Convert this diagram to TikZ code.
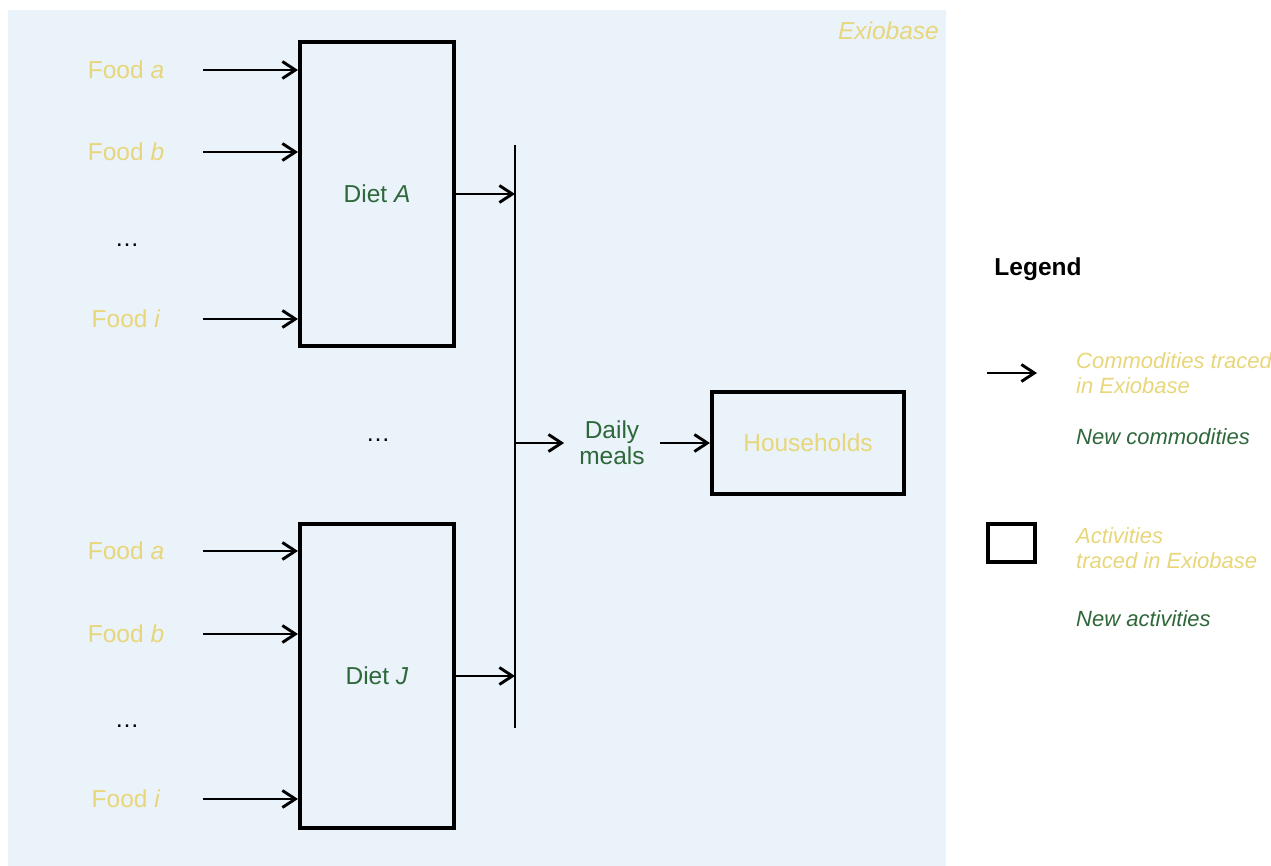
\documentclass[tikz,border=0pt]{standalone}
\usepackage{fontspec}
\setmainfont{Liberation Sans}
\usetikzlibrary{arrows.meta}
\definecolor{bgblue}{RGB}{234,242,250}
\definecolor{exyellow}{RGB}{232,214,122}
\definecolor{newgreen}{RGB}{46,104,58}
\newcommand{\mainsize}{\fontsize{24.5}{29}\selectfont}
\tikzset{
  arr/.style={line width=2.9pt,-{Straight Barb[length=13pt,width=17pt,line width=2.9pt]}},
  food/.style={text=exyellow,font=\mainsize,inner sep=0pt},
  dots/.style={font=\mainsize,inner sep=0pt},
  activity/.style={draw,line width=4pt,inner sep=0pt},
  diet/.style={activity,minimum width=154pt,minimum height=304pt,text=newgreen,font=\mainsize},
  legtext/.style={anchor=west,align=left,inner sep=0pt,font=\fontsize{22}{25}\selectfont\itshape}
}
\begin{document}
\begin{tikzpicture}[x=1pt,y=-1pt]
\useasboundingbox (0,0) rectangle (1271,866);
% background of the Exiobase part
\fill[bgblue] (8,10) rectangle (946,866);
\node[text=exyellow,anchor=east,inner sep=0pt,font=\fontsize{24.5}{28}\selectfont\itshape] (exio) at (939,31) {Exiobase};

% diets
\node[diet] (dietA) at (377,194) {Diet \textit{A}};
\node[diet] (dietJ) at (377,676) {Diet \textit{J}};

% foods feeding diet A
\node[food] (fa1) at (126,70) {Food \textit{a}};
\node[food] (fb1) at (126,152) {Food \textit{b}};
\node[dots] (d1) at (127,245) {\dots};
\node[food] (fi1) at (126,319) {Food \textit{i}};
% foods feeding diet J
\node[food] (fa2) at (126,551) {Food \textit{a}};
\node[food] (fb2) at (126,634) {Food \textit{b}};
\node[dots] (d2) at (127,726) {\dots};
\node[food] (fi2) at (126,799) {Food \textit{i}};

\foreach \f/\d in {fa1/dietA,fb1/dietA,fi1/dietA,fa2/dietJ,fb2/dietJ,fi2/dietJ}
  \draw[arr] (203,0 |- \f) -- (\d.west |- \f);

\node[dots] (dmid) at (378,440) {\dots};

% collecting line
\coordinate (bt) at (515,145);
\coordinate (bb) at (515,728);
\draw[line width=2.2pt] (bt) -- (bb);
\draw[arr] (dietA.east) -- (bt |- dietA.east);
\draw[arr] (dietJ.east) -- (bt |- dietJ.east);

% daily meals to households
\node[text=newgreen,align=center,inner xsep=15pt,inner ysep=0pt,font=\fontsize{24.5}{26}\selectfont] (dm) at (612,443) {Daily\\meals};
\node[activity,minimum width=192pt,minimum height=102pt,text=exyellow,font=\mainsize] (hh) at (808,443) {Households};
\draw[arr] (bt |- dm) -- (dm.west);
\draw[arr] (dm.east) -- (hh.west);

% legend
\node[inner sep=0pt,font=\fontsize{24.5}{28}\selectfont\bfseries] (leg) at (1038,269) {Legend};
\coordinate (la1) at (987,373);
\coordinate (la2) at (1037,373);
\draw[arr] (la1) -- (la2);
\node[legtext,text=exyellow] (lt1) at (1076,373.5) {Commodities traced\\in Exiobase};
\node[legtext,text=newgreen] (lt2) at (1076,437) {New commodities};
\node[activity,minimum width=47pt,minimum height=38pt] (lbox) at (1011.5,543) {};
\node[legtext,text=exyellow] (lt3) at (1076,548.5) {Activities\\traced in Exiobase};
\node[legtext,text=newgreen] (lt4) at (1076,619) {New activities};
\end{tikzpicture}
\end{document}
